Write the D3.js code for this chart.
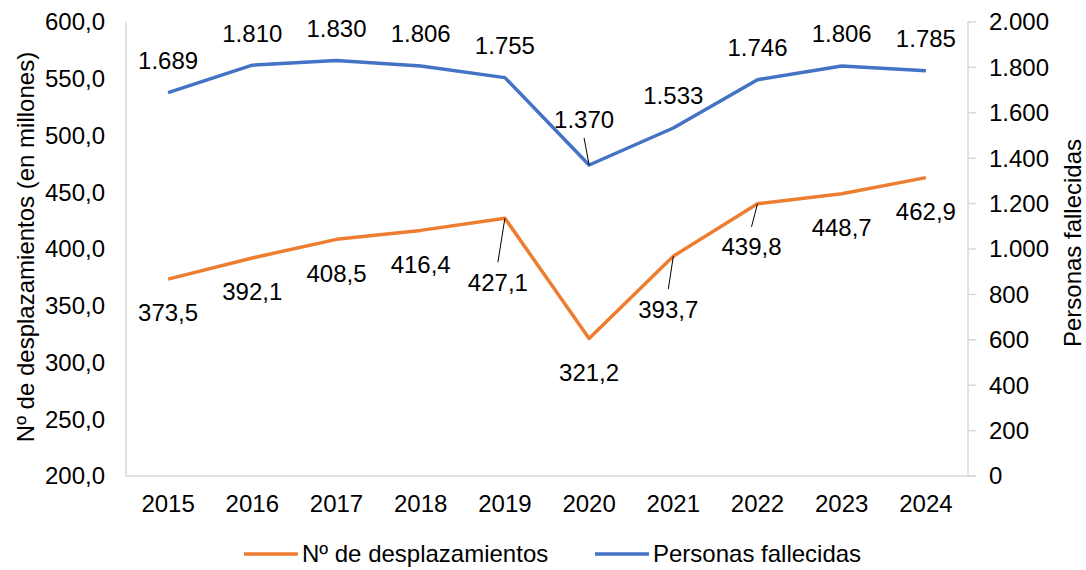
<!DOCTYPE html>
<html>
<head>
<meta charset="utf-8">
<script src="https://cdn.jsdelivr.net/npm/d3@7"></script>
<style>
  html, body { margin: 0; padding: 0; background: #fff; }
  svg text { font-family: "Liberation Sans", Arial, sans-serif; fill: #000; }
</style>
</head>
<body>
<svg id="chart" width="1086" height="570"></svg>
<script>
// data
const years = ["2015", "2016", "2017", "2018", "2019", "2020", "2021", "2022", "2023", "2024"];
const desplazamientos = [373.5, 392.1, 408.5, 416.4, 427.1, 321.2, 393.7, 439.8, 448.7, 462.9];
const fallecidos = [1689, 1810, 1830, 1806, 1755, 1370, 1533, 1746, 1806, 1785];
const leftTicks = [200, 250, 300, 350, 400, 450, 500, 550, 600];
const rightTicks = [0, 200, 400, 600, 800, 1000, 1200, 1400, 1600, 1800, 2000];

// label nudges (label centre relative to the point) for the crowded ones
const orangeNudge = { "2019": [-7, 64], "2021": [-5, 53], "2022": [-6, 43] };
const blueNudge = { "2020": [-5, -45] };

const es = d3.formatLocale({ decimal: ",", thousands: ".", grouping: [3], currency: ["", " €"] });
const fmt1 = es.format(",.1f");
const fmt0 = es.format(",.0f");

const plotLeft = 126, plotRight = 968, plotTop = 22, plotBottom = 476;
const fontSize = 24;
const orange = "#ed7d31", blue = "#4472c4", axisColor = "#d9d9d9";

const svg = d3.select("#chart");

const x = d3.scalePoint().domain(years).range([plotLeft, plotRight]).padding(0.5);
const yL = d3.scaleLinear().domain([200, 600]).range([plotBottom, plotTop]);
const yR = d3.scaleLinear().domain([0, 2000]).range([plotBottom, plotTop]);

// axes lines
svg.append("line").attr("x1", plotLeft).attr("x2", plotLeft).attr("y1", plotTop).attr("y2", plotBottom)
  .attr("stroke", axisColor).attr("stroke-width", 1.5);
svg.append("line").attr("x1", plotRight).attr("x2", plotRight).attr("y1", plotTop).attr("y2", plotBottom)
  .attr("stroke", axisColor).attr("stroke-width", 1.5);

// right ticks
svg.selectAll(".rtick").data(rightTicks).enter().append("line")
  .attr("x1", plotRight).attr("x2", plotRight + 8)
  .attr("y1", d => yR(d)).attr("y2", d => yR(d))
  .attr("stroke", axisColor).attr("stroke-width", 1.5);
svg.append("line").attr("x1", plotLeft).attr("x2", plotRight + 8).attr("y1", plotBottom).attr("y2", plotBottom)
  .attr("stroke", axisColor).attr("stroke-width", 1.5);

// tick labels
svg.selectAll(".ltl").data(leftTicks).enter().append("text")
  .attr("x", 105).attr("y", d => yL(d)).attr("dy", "0.35em")
  .attr("text-anchor", "end").attr("font-size", fontSize)
  .text(d => fmt1(d));
svg.selectAll(".rtl").data(rightTicks).enter().append("text")
  .attr("x", 989).attr("y", d => yR(d)).attr("dy", "0.35em")
  .attr("text-anchor", "start").attr("font-size", fontSize)
  .text(d => fmt0(d));
svg.selectAll(".xtl").data(years).enter().append("text")
  .attr("x", d => x(d)).attr("y", 512)
  .attr("text-anchor", "middle").attr("font-size", fontSize)
  .text(d => d);

// axis titles
svg.append("text").attr("transform", "translate(26,247) rotate(-90)")
  .attr("dy", "0.35em").attr("text-anchor", "middle").attr("font-size", fontSize)
  .text("Nº de desplazamientos (en millones)");
svg.append("text").attr("transform", "translate(1073,243) rotate(-90)")
  .attr("dy", "0.35em").attr("text-anchor", "middle").attr("font-size", fontSize)
  .text("Personas fallecidas");

// lines
const orangeLine = d3.line().x((d, i) => x(years[i])).y(d => yL(d));
const blueLine = d3.line().x((d, i) => x(years[i])).y(d => yR(d));

svg.append("path").datum(desplazamientos).attr("d", orangeLine)
  .attr("fill", "none").attr("stroke", orange).attr("stroke-width", 3.5).attr("stroke-linejoin", "round");
svg.append("path").datum(fallecidos).attr("d", blueLine)
  .attr("fill", "none").attr("stroke", blue).attr("stroke-width", 3.5).attr("stroke-linejoin", "round");

// data labels
function drawLabels(values, yScale, fmt, defDy, nudges, leaderOff) {
  values.forEach((v, i) => {
    const px = x(years[i]), py = yScale(v);
    const n = nudges[years[i]] || [0, defDy];
    const lx = px + n[0], ly = py + n[1];
    if (nudges[years[i]]) {
      svg.append("line")
        .attr("x1", px).attr("y1", py)
        .attr("x2", lx).attr("y2", ly + leaderOff)
        .attr("stroke", "#000").attr("stroke-width", 1);
    }
    svg.append("text").attr("x", lx).attr("y", ly).attr("dy", "0.35em")
      .attr("text-anchor", "middle").attr("font-size", fontSize)
      .text(fmt(v));
  });
}
drawLabels(desplazamientos, yL, fmt1, 34, orangeNudge, -20);
drawLabels(fallecidos, yR, fmt0, -32, blueNudge, 18);

// legend
const legend = [
  { name: "Nº de desplazamientos", color: orange, x: 244 },
  { name: "Personas fallecidas", color: blue, x: 595 }
];
legend.forEach(l => {
  svg.append("line").attr("x1", l.x).attr("x2", l.x + 54).attr("y1", 554).attr("y2", 554)
    .attr("stroke", l.color).attr("stroke-width", 3.5);
  svg.append("text").attr("x", l.x + 58).attr("y", 554).attr("dy", "0.35em")
    .attr("font-size", fontSize).text(l.name);
});
</script>
</body>
</html>
